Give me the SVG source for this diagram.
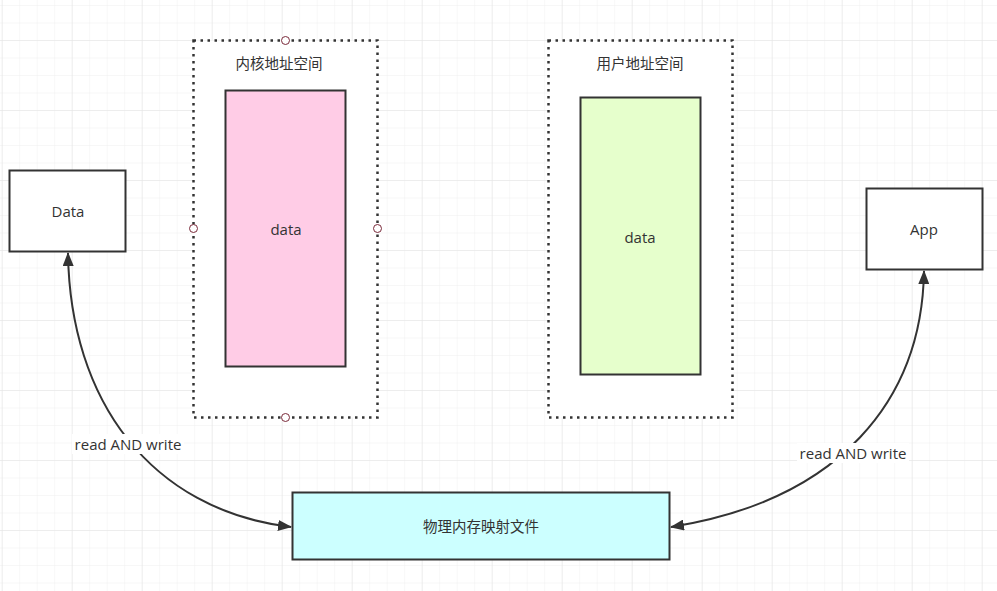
<svg xmlns="http://www.w3.org/2000/svg" width="997" height="591" viewBox="0 0 997 591">
<defs>
<pattern id="minor" x="1.7" y="5" width="17.5" height="17.5" patternUnits="userSpaceOnUse">
<path d="M0 0 V17.5 M0 0 H17.5" fill="none" stroke="#efefef" stroke-width="1"/>
</pattern>
<pattern id="major" x="1.7" y="40" width="70" height="70" patternUnits="userSpaceOnUse">
<path d="M0 0 V70 M0 0 H70" fill="none" stroke="#e4e4e4" stroke-width="1"/>
</pattern>
<marker id="arr" viewBox="0 0 14 11" refX="13" refY="5.5" markerWidth="14" markerHeight="11" markerUnits="userSpaceOnUse" orient="auto-start-reverse">
<path d="M0 0 L14 5.5 L0 11 Z" fill="#333"/>
</marker>
</defs>
<style>
.box{stroke:#333;stroke-width:2}
.dot{fill:#fff;stroke:#333;stroke-width:2.5;stroke-dasharray:2.5 4.5}
.handle{fill:#fff;stroke:#7a2a3a;stroke-width:1}
.t{font-family:"Open Sans","Noto Sans CJK SC",sans-serif;font-size:15px;fill:#333;text-anchor:middle;dominant-baseline:central}
.c{font-family:"Open Sans","Noto Sans CJK SC",sans-serif;font-size:14.5px;fill:#333;text-anchor:middle;dominant-baseline:central}
.edge{fill:none;stroke:#333;stroke-width:2}
</style>
<rect width="997" height="591" fill="#fff"/>
<rect width="997" height="591" fill="url(#minor)"/>
<rect width="997" height="591" fill="url(#major)"/>

<g id="kernel-space">
<rect class="dot" x="193.5" y="40.5" width="184" height="377"/>
<text class="c" x="279" y="63">内核地址空间</text>
<circle class="handle" cx="285.5" cy="40.5" r="4"/>
<circle class="handle" cx="193.5" cy="228.5" r="4"/>
<circle class="handle" cx="377.5" cy="228.5" r="4"/>
<circle class="handle" cx="285.5" cy="417.5" r="4"/>
</g>
<g id="kernel-data">
<rect class="box" x="225.5" y="90.5" width="120" height="276" fill="#ffcce6"/>
<text class="t" x="286" y="229">data</text>
</g>

<g id="user-space">
<rect class="dot" x="548.5" y="40.5" width="184" height="377"/>
<text class="c" x="640" y="63">用户地址空间</text>
</g>
<g id="user-data">
<rect class="box" x="580.5" y="97.5" width="120" height="277" fill="#e6ffcc"/>
<text class="t" x="640" y="237">data</text>
</g>

<g id="data">
<rect class="box" x="9.5" y="170.5" width="116" height="81" fill="#fff"/>
<text class="t" x="68" y="211">Data</text>
</g>
<g id="app">
<rect class="box" x="866.5" y="188.5" width="116" height="81" fill="#fff"/>
<text class="t" x="924" y="229">App</text>
</g>
<g id="mmap-file">
<rect class="box" x="292.5" y="492.5" width="377" height="67" fill="#ccffff"/>
<text class="c" x="481" y="526">物理内存映射文件</text>
</g>

<g id="connectors">
<path class="edge" d="M68 253 C70 400 150 510 291 527" marker-start="url(#arr)" marker-end="url(#arr)"/>
<path class="edge" d="M924 271 C922 400 840 500 671 527" marker-start="url(#arr)" marker-end="url(#arr)"/>
<rect x="72" y="434" width="112" height="20" fill="#fff"/>
<text class="t" x="128" y="444">read AND write</text>
<rect x="797" y="443" width="112" height="20" fill="#fff"/>
<text class="t" x="853" y="453">read AND write</text>
</g>
</svg>
